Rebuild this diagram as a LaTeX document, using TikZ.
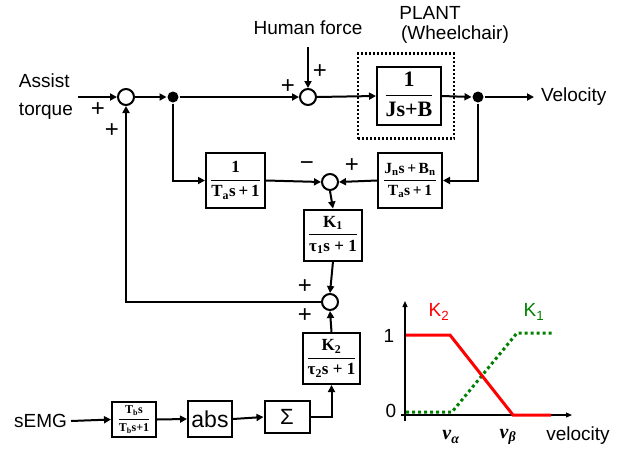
\documentclass[tikz,border=0pt]{standalone}
\usepackage{fontspec}
\setmainfont{Liberation Sans}
\newfontfamily\tnr{Liberation Serif}
\usetikzlibrary{arrows.meta}
\definecolor{kred}{RGB}{255,0,0}
\definecolor{kgreen}{RGB}{0,128,0}
\newcommand\blkfrac[2]{$\displaystyle\frac{\hbox{\rule[-0.35em]{0pt}{1.15em}#1}}{\hbox{\rule[-0.3em]{0pt}{1.2em}#2}}$}
\begin{document}
\begin{tikzpicture}[x=1pt,y=-1pt,line width=2pt,
  >={Triangle[length=7pt,width=7pt]},
  txt/.style={font=\fontsize{19}{22}\selectfont,inner sep=0pt},
  sgn/.style={font=\fontsize{24}{26}\selectfont,inner sep=0pt},
  sumc/.style={circle,draw,minimum size=16pt,inner sep=0pt},
  bdot/.style={circle,fill,minimum size=11pt,inner sep=0pt},
  blk/.style={draw,inner sep=0pt,font=\fontsize{17}{19}\selectfont\tnr\bfseries},
  gline/.style={line width=3pt}]
\useasboundingbox (0,0) rectangle (633,453);

% top row
\node[txt,align=left,anchor=west] (assist) at (18,97) {Assist\\[6pt]torque};
\coordinate (ain) at (78,97);
\node[sumc] (s1) at (126,97) {};
\node[bdot] (d1) at (173,97) {};
\node[sumc] (s2) at (308,97) {};
\node[txt] (human) at (308,28) {Human force};
\coordinate (hin) at (308,47);
\node[draw,line width=2.4pt,dash pattern=on 2pt off 2pt,minimum width=96pt,minimum height=85pt] (plantbox) at (406,96) {};
\node[blk,minimum width=64pt,minimum height=58pt,font=\fontsize{22}{24}\selectfont\tnr\bfseries] (plant) at (409,96) {\blkfrac{1}{Js+B}};
\node[txt] (plantlbl) at (430,13) {PLANT};
\node[txt] (plantlbl2) at (455,35) {(Wheelchair)};
\node[bdot] (d2) at (478,97) {};
\coordinate (vout) at (534,97);
\node[txt,anchor=west] (vel) at (540,97) {Velocity};

% middle row
\node[blk,minimum width=59pt,minimum height=55pt] (ta) at (235.5,180.5) {\blkfrac{1}{T\textsubscript{a}s\,+\,1}};
\node[sumc] (s3) at (330,182) {};
\node[blk,minimum width=64pt,minimum height=55pt,font=\fontsize{15.5}{17}\selectfont\tnr\bfseries] (jn) at (410,180.5) {\blkfrac{J\textsubscript{n}s\,+\,B\textsubscript{n}}{T\textsubscript{a}s\,+\,1}};
\node[blk,minimum width=58pt,minimum height=51pt] (k1) at (333,235) {\blkfrac{K\textsubscript{1}}{τ\textsubscript{1}s + 1}};
\node[sumc] (s4) at (330,302) {};
\node[blk,minimum width=57pt,minimum height=51pt] (k2) at (331.5,358.5) {\blkfrac{K\textsubscript{2}}{τ\textsubscript{2}s + 1}};

% bottom row
\node[txt,anchor=east] (semg) at (68,421) {sEMG};
\node[blk,minimum width=44pt,minimum height=35pt,font=\fontsize{12}{14}\selectfont\tnr\bfseries] (tb) at (134,419.5) {\blkfrac{T\textsubscript{b}s}{T\textsubscript{b}s+1}};
\node[draw,inner sep=0pt,minimum width=44pt,minimum height=36pt,font=\fontsize{23}{25}\selectfont] (abs) at (210,419) {abs};
\node[draw,inner sep=0pt,minimum width=45pt,minimum height=32pt,font=\fontsize{22}{24}\selectfont] (sig) at (287,417) {Σ};

% signs
\node[sgn] (p1) at (98,110) {+};
\node[sgn] (p2) at (112,131) {+};
\node[sgn] (p3) at (288,87) {+};
\node[sgn] (p4) at (320,72) {+};
\node[sgn] (m5) at (307,166) {\textminus};
\node[sgn] (p6) at (352,166) {+};
\node[sgn] (p7) at (305,287) {+};
\node[sgn] (p8) at (305,316) {+};

% connectors
\draw[->] (ain) -- (s1.west);
\draw[->] (s1.east) -- (d1.west);
\draw[->] (d1) -- (s2.west);
\draw[->] (hin) -- (s2.north);
\draw[->] (s2.east) -- (plant.west);
\draw[->] (plant.east) -- (d2.west);
\draw[->] (d2) -- (vout);
\draw[->] (d2) |- (jn.east);
\draw[->] (jn.west) -- (s3.east);
\draw[->] (d1) |- (ta.west);
\draw[->] (ta.east) -- (s3.west);
\draw[->] (s3.south) -- (k1.north);
\draw[->] (k1.south) -- (s4.north);
\draw[->] (s4.west) -| (s1.south);
\draw[->] (k2.north) -- (s4.south);
\draw[->] (semg.east) ++(3,0) -- (tb.west);
\draw[->] (tb.east) -- (abs.west);
\draw[->] (abs.east) -- (sig.west);
\draw[->] (sig.east) -| (k2.south);

% graph
\draw[line width=1.2pt,-{Triangle[length=6pt,width=5pt]}] (405,421) -- (405,301);
\draw[line width=1.2pt,-{Triangle[length=6pt,width=5pt]}] (401,415) -- (572,415);
\draw[gline,kgreen,dash pattern=on 3pt off 3pt] (406,412) -- (452,412) -- (517,333) -- (553,333);
\draw[gline,kred] (406,335) -- (450,335) -- (513,415) -- (551,415);
\node[txt,kred] (k2l) at (439,312) {K\textsubscript{2}};
\node[txt,kgreen] (k1l) at (534,312) {K\textsubscript{1}};
\node[txt] (one) at (389,336) {1};
\node[txt] (zero) at (391,411) {0};
\node[font=\fontsize{20}{22}\selectfont\tnr\bfseries\itshape,inner sep=0pt] (va) at (451,437) {v\textsubscript{α}};
\node[font=\fontsize{20}{22}\selectfont\tnr\bfseries\itshape,inner sep=0pt] (vb) at (508,437) {v\textsubscript{β}};
\node[txt] (velx) at (578,436) {velocity};
\end{tikzpicture}
\end{document}
